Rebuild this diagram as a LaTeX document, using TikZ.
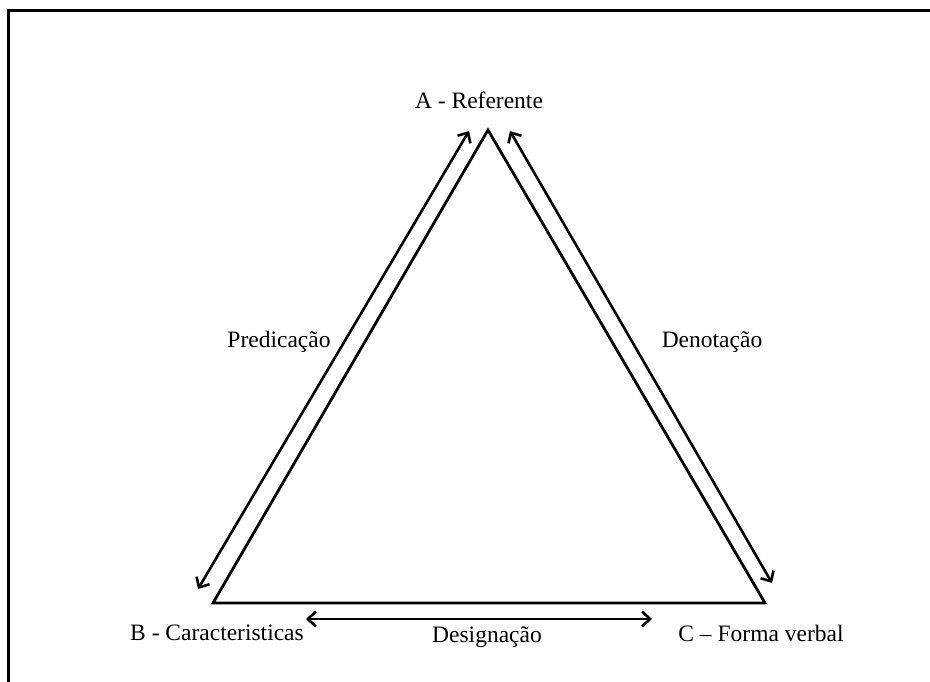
\documentclass[tikz,border=0pt]{standalone}
\usepackage{fontspec}
\setmainfont{Liberation Serif}
\usetikzlibrary{arrows.meta}
\begin{document}
\begin{tikzpicture}[x=1pt,y=-1pt,
  lbl/.style={inner sep=0pt,font=\fontsize{23.5}{26}\selectfont},
  side/.style={line width=2.8pt,line join=miter},
  rel/.style={line width=2.6pt,{Straight Barb[length=8pt,width=15pt,line width=2.6pt]}-{Straight Barb[length=8pt,width=15pt,line width=2.6pt]}}]
\useasboundingbox (0,0) rectangle (930,682);
% frame
\draw[line width=3pt] (8,682) -- (8,11) -- (930,11);
% triangle corners
\coordinate (a) at (488,130);
\coordinate (b) at (213,603);
\coordinate (c) at (765,603);
\draw[side] (a) -- (b) -- (c) -- cycle;
% arrow ends
\coordinate (pt) at (469,131);
\coordinate (pb) at (198,589);
\coordinate (dt) at (510,131);
\coordinate (db) at (772,583);
\coordinate (gl) at (306,619);
\coordinate (gr) at (652,619);
\draw[rel] (pt) -- (pb);
\draw[rel] (dt) -- (db);
\draw[rel] (gl) -- (gr);
% labels
\node[lbl] (na) at (479,100) {A - Referente};
\node[lbl] (nb) at (217,633) {B - Caracteristicas};
\node[lbl] (nc) at (761,633) {C – Forma verbal};
\node[lbl] (np) at (279,342) {Predicação};
\node[lbl] (nd) at (712,342) {Denotação};
\node[lbl] (ng) at (487,637) {Designação};
\end{tikzpicture}
\end{document}
